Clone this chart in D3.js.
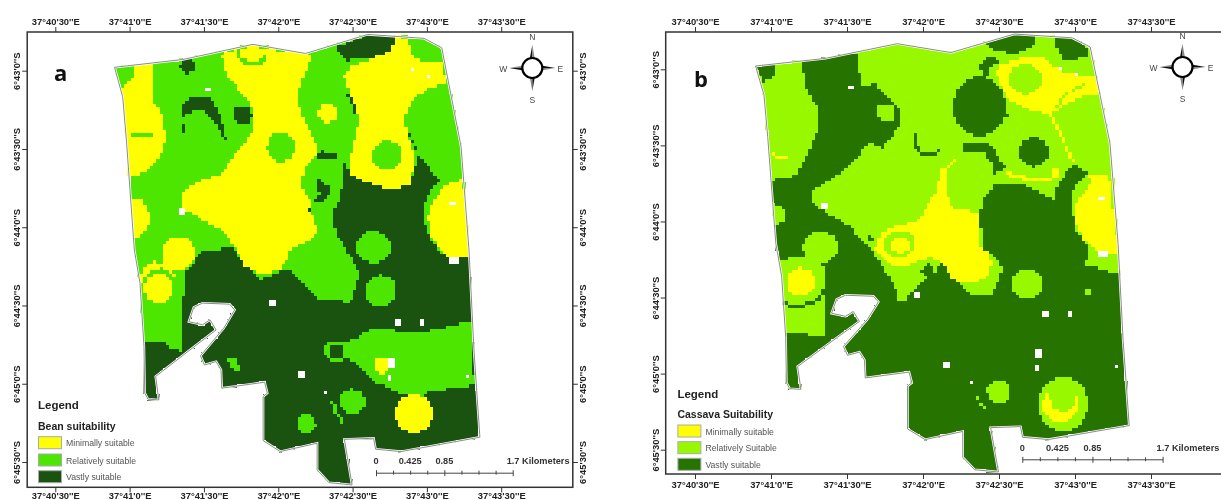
<!DOCTYPE html>
<html>
<head>
<meta charset="utf-8">
<script src="https://cdnjs.cloudflare.com/ajax/libs/d3/7.8.5/d3.min.js"></script>
<style>
  html, body { margin: 0; padding: 0; background: #fff; overflow: hidden; }
  text { font-family: "Liberation Sans", Arial, sans-serif; }
  svg { filter: blur(0.35px); }
</style>
</head>
<body>
<svg id="map" width="1221" height="500"></svg>
<script>
// all map values are arc seconds: lon east of 37°40'30"E, lat south of 6°43'0"S
const lonTicks = [0, 30, 60, 90, 120, 150, 180];
const lonLabels = ["37°40'30''E", "37°41'0''E", "37°41'30''E", "37°42'0''E", "37°42'30''E", "37°43'0''E", "37°43'30''E"];
const latTicks = [0, 30, 60, 90, 120, 150];
const latLabels = ["6°43'0''S", "6°43'30''S", "6°44'0''S", "6°44'30''S", "6°45'0''S", "6°45'30''S"];
const scaleBarKm = [0, 0.2125, 0.425, 0.6375, 0.85, 1.0625, 1.275, 1.4875, 1.7];
const scaleBarLabels = ["0", "0.425", "0.85"];

const estateOutline = [[23.9,-1.3],[27.2,10],[28.7,26.6],[31.9,68.7],[34.2,81.5],[35.8,105.7],[36.1,123.6],[37.4,125.9],[41.8,126.2],[40.5,117.2],[56.2,105.7],[64.9,99.4],[62.5,95.5],[59.4,97.4],[53.9,96.2],[55.9,90.7],[59.4,89.1],[70.4,89.5],[72.4,91.7],[68,98.7],[58.6,109.3],[60.2,112.8],[64.9,111.5],[66.9,114.7],[67.2,121.7],[84.5,119.4],[85.6,123.6],[83.9,124.9],[83.9,141.8],[90.8,146],[105.7,142.8],[105.7,153],[110.4,157.9],[119.8,158.8],[116.7,141.3],[128.5,140.9],[129.3,145.1],[139.5,146],[171.4,140.5],[169,107],[167,68.7],[163.8,29.1],[156,-8.8],[148.9,-12.4],[126.1,-13.9],[101,-6.6],[79.8,-10.1],[51.5,-4.3]];

// [lon, lat, half width, half height]
const noDataGaps = [[87.4,89,1.5,1.3],[138.5,96.2,1.4,1.3],[147.7,96.5,0.9,0.9],[161,73.2,2,1.2],[50.8,53.6,1.3,1.3],[160.6,51,1.3,0.8],[99,116.6,1.4,1],[136.2,112.2,1.2,1.5],[144.1,-0.4,0.7,0.7],[150.4,2,0.7,0.7],[61.6,7.4,0.7,0.7],[109.4,123.4,0.7,0.7],[134.7,117.8,0.7,0.7],[166.1,117.3,0.8,0.8]];

const classes = ["minimal", "relative", "vast"];
const beanLabels = ["Minimally suitable", "Relatively suitable", "Vastly suitable"];
const beanColors = ["#ffff00", "#4ce600", "#1a5210"];
const cassavaLabels = ["Minimally suitable", "Relatively Suitable", "Vastly suitable"];
const cassavaColors = ["#ffff00", "#98f800", "#267300"];

// painted in order on top of a "relative" base; a 5-number row is [class, lon, lat, rLon, rLat] as an ellipse
const beanZones = [
  ["vast", [[35.5,103.8],[43.6,103.8],[47.6,106.8],[51.2,107.3],[50.7,95.5],[53.1,76.4],[60.1,68.7],[71.9,68.1],[75.8,73.8],[82.9,80.2],[93.9,75.7],[98.6,80.2],[106.4,87.9],[119,88.5],[122.9,77.6],[117.4,68.7],[114.3,63.6],[112.7,59.8],[112.7,53.4],[115.1,48.3],[116.7,35.5],[119,40],[132.4,45.1],[142.6,44.4],[146.5,32.9],[155.4,41.9],[149.6,48.3],[148.8,54.7],[149.6,61],[154.3,68.7],[159,71.9],[168.5,71.3],[181.8,71.3],[181.8,164.5],[24.8,164.5],[24.8,103.8]]],
  ["vast", [[140.7,20.4],[141.8,21.2],[146,30.4],[148.8,38],[155.4,41.9],[149.6,46.4],[146.5,32.9]]],
  ["minimal", [[31.6,-1.9],[38.9,-3.1],[38.9,10],[42.9,17],[44.9,26.6],[40.5,35.5],[34.2,40],[29.5,40.2],[27.9,24],[26.7,6.4],[31.6,2.3]]],
  ["relative", [[30.3,24.5],[38.9,24.2],[38.9,25.5],[30.3,25.9]]],
  ["minimal", [[30.8,49.5],[35,49.5],[38.6,55.9],[36.6,61],[31.9,64.9],[29.5,55.9]]],
  ["minimal", 49.6, 70, 6.6, 6.4],
  ["minimal", [[33.9,81.5],[35.8,75.1],[40.5,73.2],[46.8,75.7],[48.4,78.9],[46.8,77.9],[42.9,75.7],[38.2,76.4],[35.5,80.2],[34.2,82.1]]],
  ["minimal", 41.8, 83.4, 5.7, 5.7],
  ["minimal", [[66.9,-6],[72.7,-8.2],[79.8,-9.8],[86,-8.2],[104.1,-6.4],[101,0.4],[97.5,10],[99.4,16.3],[103.3,24],[105.7,29.1],[104.9,33.6],[100.2,38.1],[99.4,44.4],[103.3,50.8],[103.3,54.7],[106.4,61],[102.5,64.9],[94.7,68.7],[94.7,71.3],[90.7,76.4],[82.9,78.3],[76.6,75.1],[73.2,68.7],[71.9,66.8],[67.2,61],[59.3,57.2],[50.7,52.1],[50.7,47],[54.6,43.8],[67.2,39.3],[71.9,32.9],[79.8,23.4],[80.5,16.3],[78.2,12.5],[71.9,4.9],[68.8,0.4]]],
  ["minimal", [[137.5,-13.3],[141.8,-12.4],[144.1,-6],[148.1,-3.8],[155.9,-4.1],[158.3,5.5],[152,6.1],[144.1,11.2],[141,17.6],[141.8,24],[144.1,30.4],[144.9,35.5],[142.6,44.4],[132.4,45.1],[119,40],[118.7,34.2],[122.9,18.9],[119,10],[116.7,1.7],[119,-1.5],[126.9,-4.1],[134.7,-7.9]]],
  ["minimal", [[163.8,41.9],[157.5,43.8],[152.8,49.5],[150.4,55.9],[151.2,62.3],[155.1,68.7],[159,71.9],[168.5,71.5],[166.1,49.5]]],
  ["vast", [[112.7,-8.6],[126.1,-13.9],[137.5,-13.3],[135.5,-7.9],[126.9,-4.3],[117.4,-4.1]]],
  ["vast", [[116.7,7.4],[119.8,10],[121.8,17],[120.9,17],[118.7,11.2]]],
  ["minimal", 110.1, 16, 3.9, 3.8],
  ["relative", 133.9, 32.6, 6, 5.7],
  ["relative", 91.1, 29.4, 5.5, 5.6],
  ["relative", [[72.7,-7.9],[73.5,-4.7],[78.2,-1.8],[82.9,-2.2],[86,-6],[84.9,-6.6],[82.1,-3.8],[78.2,-3.3],[75,-5.4],[74.1,-7.9]]],
  ["vast", 53.5, -1.9, 3.1, 2.8],
  ["vast", [[50.7,18.3],[50.7,13.8],[54.6,10.6],[58.6,9.6],[63.3,11.2],[66.4,16.3],[69.2,27.2],[68,25.9],[64.1,18.9],[60.1,15.1],[55.4,15.7]]],
  ["vast", [[50.7,20.2],[52.8,20.8],[52.8,25],[51.2,23.4]]],
  ["vast", 75.4, 17, 3.8, 3.6],
  ["vast", [[105.2,32.3],[107.2,30.6],[115.1,32.6],[112.7,34.2],[105.7,33.6]]],
  ["vast", [[104.9,42.5],[107.2,41.6],[108.8,43.8],[111.5,43.8],[111.2,47.6],[107.2,50.2],[103.3,50.8],[107.2,47],[105.7,45.1]]],
  ["vast", [[101.7,52.7],[106.1,54.4],[104.1,54.7]]],
  ["relative", 128.4, 67.7, 7.1, 6],
  ["relative", 131.3, 84.3, 6.3, 6],
  ["relative", 119.8, 126.8, 5.2, 4.7],
  ["relative", 101.3, 135.4, 3.9, 3.8],
  ["relative", [[116.7,103.8],[121.4,102.5],[128.4,98.7],[147.3,100.6],[168,96.2],[169,120.4],[164.5,121.3],[151.2,123],[148.1,124.9],[139.4,123.6],[128.4,119.1],[121.4,112.1],[116.7,110.2]]],
  ["relative", [[116.3,103.8],[111.2,103.8],[108.8,105.7],[108.8,108.9],[111.2,111.5],[115.9,112.1],[115.9,110.6],[111.9,110.2],[110.4,108.3],[111.2,105.7],[116.3,105.1]]],
  ["relative", [[69.6,110.8],[73.5,110.8],[74.7,116],[71.9,114.7]]],
  ["relative", [[111.9,125.5],[114.3,131.3],[116.7,135.1],[115.6,135.1],[112.7,131.3],[111.6,127.4]]],
  ["minimal", 144.9, 131.5, 7.5, 7.4],
  ["minimal", 131.9, 113, 3.1, 3.1]
];

const cassavaZones = [
  ["vast", [[24.1,-1.4],[31.4,-2],[31.4,2.2],[26.8,5.5]]],
  ["vast", [[29.8,43.7],[40.3,41.7],[48,25.3],[48,14.7],[44.1,8.2],[41.8,-3],[64.1,-6.6],[64.1,-1.1],[66.4,7.1],[71.1,5.5],[81.1,16.1],[81.1,21.3],[74.1,31.2],[68,28.6],[64.9,34.5],[58.8,40.4],[50.3,45],[45.7,49],[46.4,52.9],[52.6,56.9],[61.1,62.1],[69.8,71.3],[74.1,77.9],[79.5,87.1],[80,91.7],[82.6,91.7],[84.9,87.8],[91.8,82.5],[88.7,79.9],[92.6,76.6],[94.9,79.9],[97.2,76.6],[101.8,81.9],[108,88.4],[117.2,88.8],[121,79.9],[120.3,75.3],[113.4,70.7],[112.6,56.9],[114.1,50.3],[118.7,45],[128,45],[142.6,51.6],[142.6,55.5],[141.8,47.6],[149.5,37.1],[155.3,41.1],[149.5,46.3],[148.7,54.2],[150.3,63.4],[155.6,70.7],[154.1,77.2],[166.4,80.5],[181.8,80.5],[181.8,163.4],[12.6,163.4],[12.6,44.1]]],
  ["minimal", [[30.3,32.8],[34.1,34.4],[36.9,33.2],[36.9,34.6],[34.1,35.9],[30.3,34.2]]],
  ["relative", [[33.4,75.3],[44.9,73.3],[51.8,79.2],[50.8,105.8],[41.8,104.2],[34.9,103.6],[31.1,91]]],
  ["vast", [[34.1,91.7],[41.1,93],[48.8,90.4],[50.3,86.5],[51.4,87.1],[49.5,91.7],[41.1,94],[34.1,93]]],
  ["minimal", 41.8, 83.8, 5.5, 5.5],
  ["relative", [[30.8,52.9],[35.7,55.5],[35.7,59.5],[31.8,61.5],[30.3,56.9]]],
  ["relative", 49.5, 70, 6.9, 6.3],
  ["relative", 75.4, 17, 3.7, 3.6],
  ["vast", [[89.5,24],[87.2,25.3],[85.7,28.6],[87.2,32.5],[91,34.7],[95.7,33.8],[97.2,30.5],[96.4,31.8],[91.8,33.4],[88.7,31.8],[87.2,28.6],[88,25.9]]],
  ["vast", [[114.9,-10.3],[127.2,-14.2],[134.9,-13.6],[133.3,-8.9],[126.4,-6.3],[118,-7]]],
  ["vast", [[141.8,-12.2],[149.5,-12.6],[155.3,-8.6],[155.3,-4.3],[144.9,-3.9],[143.3,-7.6]]],
  ["minimal", [[120.3,-1.7],[128,-4.3],[137.2,-4.7],[144.9,0.9],[158.7,3.6],[159.5,10.1],[152.6,10.8],[144.9,14.7],[140.3,18],[131.8,16.1],[123.3,12.1],[121,6.8],[118.7,1.6]]],
  ["relative", 130.3, 3.9, 6.5, 5.9],
  ["relative", [[141.8,14.7],[146.4,9.5],[153.3,5.5],[154.1,6.2],[147.2,10.1],[142.6,15.4]]],
  ["minimal", [[141,18],[144.9,25.3],[148,33.2],[151,37.1],[150,37.1],[146.9,33.2],[143.7,25.3],[140,18.4]]],
  ["vast", 112.3, 14.7, 10.3, 11.6],
  ["vast", [[112.6,-1.7],[114.9,-4.7],[122.6,-3.7],[117.2,-1.7],[114.9,4.2],[118.7,9.5],[123.3,18],[124.5,19.3],[120.3,18.7],[114.1,5.5]]],
  ["vast", 133.8, 32.5, 5.8, 5.9],
  ["vast", [[105.7,29.2],[116.4,29.2],[122.6,39.1],[118,41.1],[118,37.1],[114.1,33.2],[105.7,33.2]]],
  ["minimal", [[123.3,40.4],[134.1,43],[140.3,42.4],[141.8,38.4],[143.7,39.1],[143.3,43],[134.1,44.7],[122.6,41.7]]],
  ["minimal", [[155.6,41.7],[163.3,41.7],[167.2,72.6],[159.5,72],[153.3,67.4],[149.5,58.2],[151,51.6],[156.4,45]]],
  ["minimal", [[103.4,35.1],[97.2,39.7],[94.9,49],[91.8,52.9],[88.7,59.5],[78.7,62.1],[73.4,64.7],[71.1,70.7],[77.2,77.2],[84.9,77.2],[92.6,74],[98,76.6],[103.4,81.9],[109.5,84.5],[116.4,80.5],[116.4,71.3],[112.6,70.7],[111.8,56.9],[108,55.5],[101.8,54.9],[98.7,47.6],[99.5,39.7]]],
  ["minimal", 107.7, 76.6, 9.2, 7.9],
  ["relative", 80.6, 68.7, 6.2, 5.3],
  ["minimal", 81.1, 69.4, 3.8, 2.9],
  ["vast", 69.2, 66.7, 1.2, 1],
  ["relative", 131, 84.5, 6.2, 5.9],
  ["relative", 120, 127, 4.6, 4.6],
  ["relative", 155.3, 87.4, 1.5, 1.3],
  ["relative", 145.2, 132.1, 10, 10.5],
  ["minimal", [[139.5,126.6],[136.4,133.2],[140.3,138.4],[146.4,139.5],[151.8,134.5],[151,127.3],[149.5,133.2],[144.9,135.8],[141,133.2]]],
  ["relative", [[111.8,128.6],[114.1,133.2],[116.4,135.8],[115.6,135.8],[112.6,131.9],[111,129.2]]]
];

const cellLon = 1.3, cellLat = 1.25;
const svg = d3.select("#map");

function inZone(zone, lon, lat) {
  if (zone.length === 2) return d3.polygonContains(zone[1], [lon, lat]);
  let dx = (lon - zone[1]) / zone[3], dy = (lat - zone[2]) / zone[4];
  return dx * dx + dy * dy <= 1;
}

function inGap(gap, lon, lat) {
  return Math.abs(lon - gap[0]) <= gap[2] && Math.abs(lat - gap[1]) <= gap[3];
}

function cellClass(zones, lon, lat) {
  if (!d3.polygonContains(estateOutline, [lon, lat])) return null;
  if (noDataGaps.some(g => inGap(g, lon, lat))) return null;
  for (let i = zones.length - 1; i >= 0; i--) {
    if (inZone(zones[i], lon, lat)) return zones[i][0];
  }
  return "relative";
}

function drawPanel(p) {
  let g = svg.append("g").attr("class", p.name);
  let x = d3.scaleLinear().domain([0, 180]).range(p.xRange);
  let y = d3.scaleLinear().domain([0, 150]).range(p.yRange);
  let color = d3.scaleOrdinal().domain(classes).range(p.colors);

  // raster cells, one path per class
  let paths = {};
  classes.forEach(c => { paths[c] = d3.path(); });
  d3.range(20, 176, cellLon).forEach(lon => {
    d3.range(-16, 162, cellLat).forEach(lat => {
      let c = cellClass(p.zones, lon + cellLon / 2, lat + cellLat / 2);
      if (c) paths[c].rect(x(lon), y(lat), x(lon + cellLon) - x(lon), y(lat + cellLat) - y(lat));
    });
  });
  g.selectAll("path.cells").data(classes).enter().append("path")
    .attr("class", "cells")
    .attr("d", c => paths[c].toString())
    .attr("fill", c => color(c))
    .attr("shape-rendering", "crispEdges");

  let outline = d3.line().x(d => x(d[0])).y(d => y(d[1])).curve(d3.curveLinearClosed);
  g.append("path").attr("d", outline(estateOutline)).attr("fill", "none").attr("stroke", "#fff").attr("stroke-width", 2.4);
  g.append("path").attr("d", outline(estateOutline)).attr("fill", "none").attr("stroke", "#8c8c8c").attr("stroke-width", 1);

  // frame and graticule labels
  g.append("rect")
    .attr("x", p.frame[0]).attr("y", p.frame[1])
    .attr("width", p.frame[2] - p.frame[0]).attr("height", p.frame[3] - p.frame[1])
    .attr("fill", "none").attr("stroke", "#333").attr("stroke-width", 1.5);

  let styleAxis = sel => {
    sel.select(".domain").remove();
    sel.selectAll("line").attr("stroke", "#333").attr("stroke-width", 1);
    sel.selectAll("text").attr("font-size", 9.4).attr("font-weight", "bold").attr("fill", "#222")
      .style("font-family", '"Liberation Sans", Arial, sans-serif');
  };
  g.append("g").attr("transform", `translate(0,${p.frame[1]})`)
    .call(d3.axisTop(x).tickValues(lonTicks).tickFormat((d, i) => lonLabels[i]).tickSize(5).tickPadding(2.5))
    .call(styleAxis);
  g.append("g").attr("transform", `translate(0,${p.frame[3]})`)
    .call(d3.axisBottom(x).tickValues(lonTicks).tickFormat((d, i) => lonLabels[i]).tickSize(5).tickPadding(p.bottomPad))
    .call(styleAxis);

  let latAxis = (axis, off) => sel => {
    sel.call(axis.tickValues(latTicks).tickFormat((d, i) => latLabels[i]).tickSize(5)).call(styleAxis);
    sel.selectAll("text").attr("x", 0).attr("y", 0).attr("dy", null)
      .attr("text-anchor", "middle").attr("transform", `translate(${off},0) rotate(-90)`);
  };
  g.append("g").attr("transform", `translate(${p.frame[0]},0)`).call(latAxis(d3.axisLeft(y), p.leftLabel));
  if (p.rightLabel) g.append("g").attr("transform", `translate(${p.frame[2]},0)`).call(latAxis(d3.axisRight(y), p.rightLabel));

  g.append("text").attr("x", p.letter[0]).attr("y", p.letter[1]).text(p.name)
    .attr("font-size", 22).attr("font-weight", "bold").attr("fill", "#111").style("font-family", '"Open Sans", sans-serif');

  // legend
  let lg = p.legend;
  g.append("text").attr("x", lg.x).attr("y", lg.head).text("Legend").attr("font-size", 11.5).attr("font-weight", "bold").attr("fill", "#222");
  g.append("text").attr("x", lg.x).attr("y", lg.title).text(p.legendTitle).attr("font-size", 10.5).attr("font-weight", "bold").attr("fill", "#222");
  g.selectAll("rect.swatch").data(classes).enter().append("rect")
    .attr("class", "swatch")
    .attr("x", lg.x + 0.5).attr("y", (d, i) => lg.rows[i]).attr("width", 23).attr("height", 12)
    .attr("fill", c => color(c)).attr("stroke", "#aaa").attr("stroke-width", 1);
  g.selectAll("text.item").data(p.labels).enter().append("text")
    .attr("class", "item")
    .attr("x", lg.x + 28).attr("y", (d, i) => lg.rows[i] + 9.5).text(d => d)
    .attr("font-size", 8.7).attr("fill", "#555");

  // scale bar
  let km = d3.scaleLinear().domain([0, 1.7]).range(p.bar.range);
  let bar = g.append("g").attr("transform", `translate(0,${p.bar.y})`)
    .call(d3.axisBottom(km).tickValues(scaleBarKm).tickSize(0).tickFormat(""));
  bar.select(".domain").attr("stroke", "#444").attr("stroke-width", 1);
  bar.selectAll(".tick line").attr("stroke", "#444").attr("y1", d => (d === 0 || d === 0.85 || d === 1.7) ? -2.5 : -2).attr("y2", d => (d === 0 || d === 0.85 || d === 1.7) ? 3.5 : 2);
  const barVals = [0, 0.425, 0.85];
  g.selectAll("text.bar").data(barVals).enter().append("text")
    .attr("class", "bar").attr("x", d => km(d)).attr("y", p.bar.text).attr("text-anchor", "middle")
    .text((d, i) => scaleBarLabels[i]).attr("font-size", 9.2).attr("font-weight", "bold").attr("fill", "#333");
  g.append("text").attr("x", km(1.7) - 6).attr("y", p.bar.text).text("1.7 Kilometers")
    .attr("font-size", 9.2).attr("font-weight", "bold").attr("fill", "#333");

  // north arrow
  let [cx, cy] = p.north;
  let na = g.append("g").attr("transform", `translate(${cx},${cy})`);
  [0, 90, 180, 270].forEach(a => {
    let s = na.append("g").attr("transform", `rotate(${a})`);
    s.append("path").attr("d", "M0,-23L-2.6,-9L0,-9Z").attr("fill", "#111");
    s.append("path").attr("d", "M0,-23L2.6,-9L0,-9Z").attr("fill", "#888");
  });
  na.append("circle").attr("r", 10).attr("fill", "#fff").attr("stroke", "#000").attr("stroke-width", 2.2);
  [["N", 0, -28], ["S", 0, 35], ["W", -29, 3.5], ["E", 28, 3.5]].forEach(t => {
    na.append("text").attr("x", t[1]).attr("y", t[2]).attr("text-anchor", "middle").text(t[0])
      .attr("font-size", 8.5).attr("fill", "#444");
  });
}

drawPanel({
  name: "a", zones: beanZones, colors: beanColors, labels: beanLabels, legendTitle: "Bean suitability",
  xRange: [55.3, 501.2], yRange: [70.7, 462], frame: [27.2, 32, 572.8, 487.3],
  bottomPad: 0.3, leftLabel: -7.7, rightLabel: 12.7, letter: [54, 81],
  legend: { x: 38, head: 409, title: 430, rows: [436.7, 454, 470.7] },
  bar: { range: [376, 512.7], y: 472.7, text: 464 }, north: [532.3, 68]
});

drawPanel({
  name: "b", zones: cassavaZones, colors: cassavaColors, labels: cassavaLabels, legendTitle: "Cassava Suitability",
  xRange: [695, 1151], yRange: [69.3, 449.7], frame: [665.7, 32, 1240, 474],
  bottomPad: 2.6, leftLabel: -6.7, rightLabel: 0, letter: [694, 87],
  legend: { x: 677.4, head: 398, title: 418, rows: [425, 441.7, 458.3] },
  bar: { range: [1022.3, 1162.6], y: 459.3, text: 451.3 }, north: [1182.5, 67]
});
</script>
</body>
</html>
